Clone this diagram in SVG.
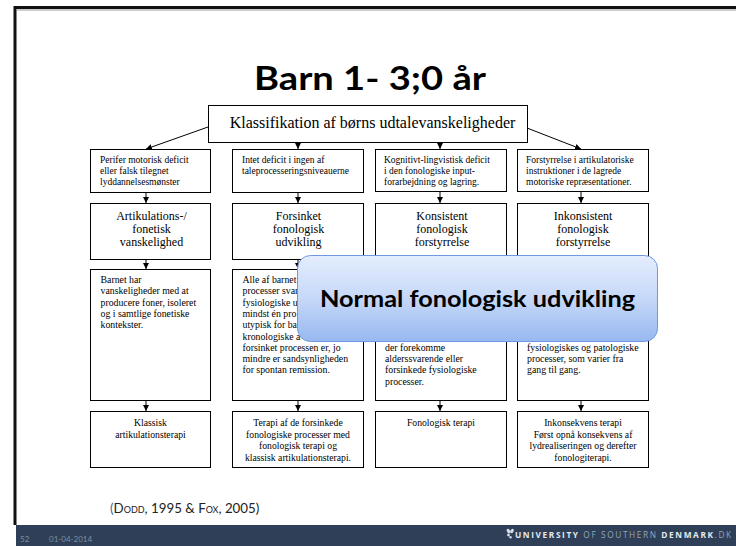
<svg xmlns="http://www.w3.org/2000/svg" width="736" height="546" viewBox="0 0 736 546">
<defs>
<style>
.box{fill:#fff;stroke:#000;stroke-width:1}
.hd{font-family:"Liberation Serif",serif;font-size:9.5px;fill:#000}
.tt{font-family:"Liberation Serif",serif;font-size:12px;fill:#000;text-anchor:middle}
.md{font-family:"Liberation Serif",serif;font-size:9.8px;fill:#000}
.lw{font-family:"Liberation Serif",serif;font-size:9.7px;fill:#000;text-anchor:middle}
.cn{stroke:#000;stroke-width:1;fill:none}
.gs{font-family:Lato,"Open Sans",sans-serif}
.ft{font-family:Lato,"Open Sans",sans-serif;font-size:8px;fill:#7f8ea3}
.un{font-family:"Open Sans",Lato,sans-serif;font-size:8.3px;letter-spacing:0.9px}
</style>
<marker id="ah" viewBox="0 0 10 10" refX="10" refY="5" markerWidth="6" markerHeight="6" markerUnits="userSpaceOnUse" orient="auto">
<path d="M0,0 L10,5 L0,10 z" fill="#000"/>
</marker>
<linearGradient id="cg" x1="0" y1="0" x2="0" y2="1">
<stop offset="0" stop-color="#e4edfd"/>
<stop offset="0.5" stop-color="#c6d8f8"/>
<stop offset="1" stop-color="#97b8f0"/>
</linearGradient>
</defs>
<rect x="0" y="0" width="736" height="546" fill="#fff"/>
<!-- slide frame -->
<path d="M15,525 V7.5 H736" fill="none" stroke="#111" stroke-width="3"/>
<path d="M17,10 H736" stroke="#999" stroke-width="1"/>
<!-- title -->
<text x="370" y="90" class="gs" font-size="32" font-weight="bold" text-anchor="middle" fill="#000" textLength="232" lengthAdjust="spacingAndGlyphs">Barn 1- 3;0 år</text>

<g id="connectors">
<line class="cn" x1="208" y1="127" x2="146" y2="149" marker-end="url(#ah)"/>
<line class="cn" x1="527" y1="128" x2="581" y2="149" marker-end="url(#ah)"/>
<line class="cn" x1="298" y1="142" x2="298" y2="149" marker-end="url(#ah)"/>
<line class="cn" x1="440" y1="142" x2="440" y2="149" marker-end="url(#ah)"/>
<line class="cn" x1="146" y1="192" x2="146" y2="203" marker-end="url(#ah)"/>
<line class="cn" x1="298" y1="192" x2="298" y2="203" marker-end="url(#ah)"/>
<line class="cn" x1="440" y1="192" x2="440" y2="203" marker-end="url(#ah)"/>
<line class="cn" x1="581" y1="192" x2="581" y2="203" marker-end="url(#ah)"/>
<line class="cn" x1="146" y1="259" x2="146" y2="269" marker-end="url(#ah)"/>
<line class="cn" x1="298" y1="259" x2="298" y2="269" marker-end="url(#ah)"/>
<line class="cn" x1="440" y1="259" x2="440" y2="269" marker-end="url(#ah)"/>
<line class="cn" x1="581" y1="259" x2="581" y2="269" marker-end="url(#ah)"/>
<line class="cn" x1="146" y1="400" x2="146" y2="411" marker-end="url(#ah)"/>
<line class="cn" x1="298" y1="400" x2="298" y2="411" marker-end="url(#ah)"/>
<line class="cn" x1="440" y1="400" x2="440" y2="411" marker-end="url(#ah)"/>
<line class="cn" x1="581" y1="400" x2="581" y2="411" marker-end="url(#ah)"/>
</g>

<g id="root">
<rect class="box" x="208.5" y="105.5" width="319" height="37"/>
<text x="372.5" y="128" font-family="Liberation Serif, serif" font-size="16" text-anchor="middle">Klassifikation af børns udtalevanskeligheder</text>
</g>

<!-- header row -->
<g id="h1">
<rect class="box" x="90.5" y="149.5" width="120" height="43"/>
<text class="hd"><tspan y="163.3" x="100">Perifer motorisk deficit</tspan><tspan y="173.9" x="100">eller falsk tilegnet</tspan><tspan y="184.5" x="100">lyddannelsesmønster</tspan></text>
</g>
<g id="h2">
<rect class="box" x="232.5" y="149.5" width="131" height="43"/>
<text class="hd"><tspan y="163.3" x="242">Intet deficit i ingen af</tspan><tspan y="173.9" x="242">taleprocesseringsniveauerne</tspan></text>
</g>
<g id="h3">
<rect class="box" x="375.5" y="149.5" width="131" height="42"/>
<text class="hd"><tspan y="163.3" x="384">Kognitivt-lingvistisk deficit</tspan><tspan y="173.9" x="384">i den fonologiske input-</tspan><tspan y="184.5" x="384">forarbejdning og lagring.</tspan></text>
</g>
<g id="h4">
<rect class="box" x="517.5" y="149.5" width="131" height="42"/>
<text class="hd"><tspan y="163.3" x="526">Forstyrrelse i artikulatoriske</tspan><tspan y="173.9" x="526">instruktioner i de lagrede</tspan><tspan y="184.5" x="526">motoriske repræsentationer.</tspan></text>
</g>

<!-- type row -->
<g id="t1">
<rect class="box" x="90.5" y="203.5" width="120" height="56"/>
<text class="tt"><tspan x="151.5" y="220.3">Artikulations-/</tspan><tspan x="151.5" y="233.3">fonetisk</tspan><tspan x="151.5" y="246.3">vanskelighed</tspan></text>
</g>
<g id="t2">
<rect class="box" x="232.5" y="203.5" width="131" height="56"/>
<text class="tt"><tspan x="298.5" y="220.3">Forsinket</tspan><tspan x="298.5" y="233.3">fonologisk</tspan><tspan x="298.5" y="246.3">udvikling</tspan></text>
</g>
<g id="t3">
<rect class="box" x="375.5" y="203.5" width="131" height="56"/>
<text class="tt"><tspan x="442" y="220.3">Konsistent</tspan><tspan x="442" y="233.3">fonologisk</tspan><tspan x="442" y="246.3">forstyrrelse</tspan></text>
</g>
<g id="t4">
<rect class="box" x="517.5" y="203.5" width="131" height="56"/>
<text class="tt"><tspan x="583" y="220.3">Inkonsistent</tspan><tspan x="583" y="233.3">fonologisk</tspan><tspan x="583" y="246.3">forstyrrelse</tspan></text>
</g>

<!-- description row -->
<g id="d1">
<rect class="box" x="90.5" y="269.5" width="120" height="131"/>
<text class="md"><tspan x="100.5" y="283">Barnet har</tspan><tspan x="100.5" y="294.3">vanskeligheder med at</tspan><tspan x="100.5" y="305.6">producere foner, isoleret</tspan><tspan x="100.5" y="316.9">og i samtlige fonetiske</tspan><tspan x="100.5" y="328.2">kontekster.</tspan></text>
</g>
<g id="d2">
<rect class="box" x="232.5" y="269.5" width="131" height="131"/>
<text class="md"><tspan x="242.5" y="283">Alle af barnet</tspan><tspan x="242.5" y="294.3">processer svar</tspan><tspan x="242.5" y="305.6">fysiologiske u</tspan><tspan x="242.5" y="316.9">mindst én pro</tspan><tspan x="242.5" y="328.2">utypisk for ba</tspan><tspan x="242.5" y="339.5">kronologiske a</tspan><tspan x="242.5" y="350.8">forsinket processen er, jo</tspan><tspan x="242.5" y="362.1">mindre er sandsynligheden</tspan><tspan x="242.5" y="373.4">for spontan remission.</tspan></text>
</g>
<g id="d3">
<rect class="box" x="375.5" y="269.5" width="131" height="131"/>
<text class="md"><tspan x="385" y="350.8">der forekomme</tspan><tspan x="385" y="362.1">alderssvarende eller</tspan><tspan x="385" y="373.4">forsinkede fysiologiske</tspan><tspan x="385" y="384.7">processer.</tspan></text>
</g>
<g id="d4">
<rect class="box" x="517.5" y="269.5" width="131" height="131"/>
<text class="md"><tspan x="527" y="350.8">fysiologiskes og patologiske</tspan><tspan x="527" y="362.1">processer, som varier fra</tspan><tspan x="527" y="373.4">gang til gang.</tspan></text>
</g>

<!-- therapy row -->
<g id="r1">
<rect class="box" x="90.5" y="411.5" width="120" height="56"/>
<text class="lw"><tspan x="150.5" y="426">Klassisk</tspan><tspan x="150.5" y="437.5">artikulationsterapi</tspan></text>
</g>
<g id="r2">
<rect class="box" x="232.5" y="411.5" width="131" height="56"/>
<text class="lw"><tspan x="298" y="426">Terapi af de forsinkede</tspan><tspan x="298" y="437.5">fonologiske processer med</tspan><tspan x="298" y="449">fonologisk terapi og</tspan><tspan x="298" y="460.5">klassisk artikulationsterapi.</tspan></text>
</g>
<g id="r3">
<rect class="box" x="375.5" y="411.5" width="131" height="56"/>
<text class="lw"><tspan x="441" y="426">Fonologisk terapi</tspan></text>
</g>
<g id="r4">
<rect class="box" x="517.5" y="411.5" width="131" height="56"/>
<text class="lw"><tspan x="583" y="426">Inkonsekvens terapi</tspan><tspan x="583" y="437.5">Først opnå konsekvens af</tspan><tspan x="583" y="449">lydrealiseringen og derefter</tspan><tspan x="583" y="460.5">fonologiterapi.</tspan></text>
</g>

<!-- callout -->
<g id="callout">
<rect x="297.5" y="255.5" width="360" height="86" rx="13" fill="url(#cg)" stroke="#6f98de" stroke-width="1"/>
<text x="477.5" y="306.5" class="gs" font-size="23" font-weight="bold" text-anchor="middle" fill="#000" textLength="315" lengthAdjust="spacingAndGlyphs">Normal fonologisk udvikling</text>
</g>

<!-- citation -->
<text x="110" y="513" class="gs" font-size="13.3" fill="#222"><tspan fill="#3d64a8">(</tspan><tspan font-variant="small-caps">Dodd</tspan>, 1995 &amp; <tspan font-variant="small-caps">Fox</tspan>, 2005)</text>

<!-- footer -->
<rect x="16" y="525" width="720" height="21" fill="#2e3f57"/>
<text class="ft" x="20" y="542">52</text>
<text class="ft" x="49" y="542">01-04-2014</text>
<g fill="#d8dfe8">
<ellipse cx="508.5" cy="531" rx="1.6" ry="2.4" transform="rotate(-30 508.5 531)"/>
<ellipse cx="512" cy="531" rx="1.6" ry="2.4" transform="rotate(30 512 531)"/>
<ellipse cx="508.5" cy="535" rx="1.4" ry="1.4"/>
<ellipse cx="510.5" cy="537.2" rx="1.2" ry="1.2"/>
</g>
<text class="un" x="515" y="537.5" textLength="217" lengthAdjust="spacing"><tspan font-weight="bold" fill="#e3e8ef">UNIVERSITY</tspan><tspan fill="#97a6bb"> OF SOUTHERN </tspan><tspan font-weight="bold" fill="#e3e8ef">DENMARK</tspan><tspan fill="#97a6bb">.DK</tspan></text>
</svg>
